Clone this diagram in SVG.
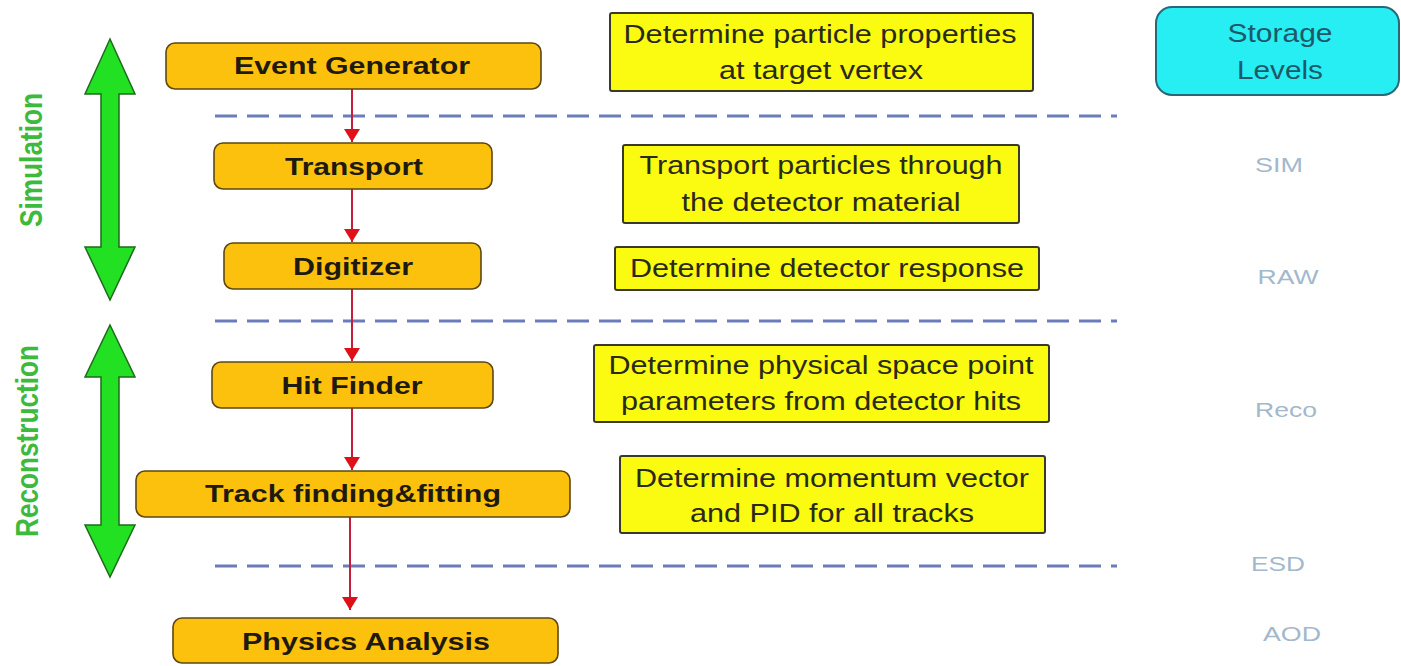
<svg xmlns="http://www.w3.org/2000/svg" width="1401" height="666" viewBox="0 0 1401 666">
  <style>
    .stage rect { fill: #fcc10c; stroke: #5c4712; stroke-width: 1.6; }
    .stage text { font-family: "Liberation Sans", Arial, sans-serif; font-weight: bold; font-size: 24px; fill: #1e1a10; text-anchor: middle; }
    .note rect { fill: #fbfb12; stroke: #3a3a2a; stroke-width: 2; }
    .note text { font-family: "Liberation Sans Narrow", "Liberation Sans", Arial, sans-serif; font-size: 25px; fill: #2a2a1a; text-anchor: middle; }
    .level { font-family: "Liberation Sans", Arial, sans-serif; font-size: 21px; fill: #a3b8cb; text-anchor: middle; }
    .phase { font-family: "Liberation Sans", Arial, sans-serif; font-weight: bold; font-size: 26px; fill: #3dba3d; text-anchor: middle; }
    .span { fill: #22e022; stroke: #1f6a1f; stroke-width: 1.5; stroke-linejoin: miter; }
    .divider { stroke: #6a7cbc; stroke-width: 3; stroke-dasharray: 22 10; fill: none; }
    .flow { stroke: #c41e3a; stroke-width: 2; fill: none; marker-end: url(#head); }
  </style>
  <defs>
    <marker id="head" markerUnits="userSpaceOnUse" markerWidth="14" markerHeight="18" refX="13" refY="8" orient="auto">
      <path d="M0,0 L13,8 L0,16 Z" fill="#e01018"/>
    </marker>
  </defs>

  <rect width="1401" height="666" fill="#ffffff"/>

  <!-- phase spans -->
  <g id="simulation">
    <path class="span" d="M110,39 L135,94 L119,94 L119,247 L135,247 L110,300 L85,247 L101,247 L101,94 L85,94 Z"/>
    <text class="phase" transform="translate(42,160) rotate(-90) scale(1,1.2)" textLength="134" lengthAdjust="spacingAndGlyphs">Simulation</text>
  </g>
  <g id="reconstruction">
    <path class="span" d="M110,325 L135,377 L119,377 L119,525 L135,525 L110,577 L85,525 L101,525 L101,377 L85,377 Z"/>
    <text class="phase" transform="translate(38,441) rotate(-90) scale(1,1.2)" textLength="192" lengthAdjust="spacingAndGlyphs">Reconstruction</text>
  </g>

  <!-- storage level boundaries -->
  <g id="dividers">
    <line class="divider" x1="215" y1="116" x2="1117" y2="116"/>
    <line class="divider" x1="215" y1="321" x2="1117" y2="321"/>
    <line class="divider" x1="215" y1="566" x2="1117" y2="566"/>
  </g>

  <!-- processing chain -->
  <g id="connectors">
    <line class="flow" x1="352" y1="89" x2="352" y2="142"/>
    <line class="flow" x1="352" y1="189" x2="352" y2="242"/>
    <line class="flow" x1="352" y1="289" x2="352" y2="361"/>
    <line class="flow" x1="352" y1="408" x2="352" y2="470"/>
    <line class="flow" x1="350" y1="517" x2="350" y2="610"/>
  </g>

  <g id="event-generator" class="stage">
    <rect x="166" y="43" width="375" height="46" rx="9"/>
    <text x="352" y="74" textLength="236" lengthAdjust="spacingAndGlyphs">Event Generator</text>
  </g>
  <g id="transport" class="stage">
    <rect x="214" y="143" width="278" height="46" rx="9"/>
    <text x="354" y="175" textLength="138" lengthAdjust="spacingAndGlyphs">Transport</text>
  </g>
  <g id="digitizer" class="stage">
    <rect x="224" y="243" width="257" height="46" rx="9"/>
    <text x="353" y="275" textLength="120" lengthAdjust="spacingAndGlyphs">Digitizer</text>
  </g>
  <g id="hit-finder" class="stage">
    <rect x="212" y="362" width="281" height="46" rx="9"/>
    <text x="352" y="394" textLength="141" lengthAdjust="spacingAndGlyphs">Hit Finder</text>
  </g>
  <g id="track-finding" class="stage">
    <rect x="136" y="471" width="434" height="46" rx="9"/>
    <text x="353" y="502" textLength="296" lengthAdjust="spacingAndGlyphs">Track finding&amp;fitting</text>
  </g>
  <g id="physics-analysis" class="stage">
    <rect x="173" y="618" width="385" height="45" rx="9"/>
    <text x="366" y="650" textLength="248" lengthAdjust="spacingAndGlyphs">Physics Analysis</text>
  </g>

  <!-- stage descriptions -->
  <g id="note-generator" class="note">
    <rect x="610" y="13" width="423" height="78" rx="2"/>
    <text x="820" y="43" textLength="393" lengthAdjust="spacingAndGlyphs">Determine particle properties</text>
    <text x="821" y="79" textLength="204" lengthAdjust="spacingAndGlyphs">at target vertex</text>
  </g>
  <g id="note-transport" class="note">
    <rect x="623" y="145" width="396" height="78" rx="2"/>
    <text x="821" y="174" textLength="363" lengthAdjust="spacingAndGlyphs">Transport particles through</text>
    <text x="821" y="211" textLength="279" lengthAdjust="spacingAndGlyphs">the detector material</text>
  </g>
  <g id="note-digitizer" class="note">
    <rect x="615" y="247" width="424" height="43" rx="2"/>
    <text x="827" y="277" textLength="394" lengthAdjust="spacingAndGlyphs">Determine detector response</text>
  </g>
  <g id="note-hits" class="note">
    <rect x="594" y="345" width="455" height="77" rx="2"/>
    <text x="821" y="374" textLength="425" lengthAdjust="spacingAndGlyphs">Determine physical space point</text>
    <text x="821" y="410" textLength="400" lengthAdjust="spacingAndGlyphs">parameters from detector hits</text>
  </g>
  <g id="note-tracks" class="note">
    <rect x="620" y="456" width="425" height="77" rx="2"/>
    <text x="832" y="487" textLength="394" lengthAdjust="spacingAndGlyphs">Determine momentum vector</text>
    <text x="832" y="522" textLength="284" lengthAdjust="spacingAndGlyphs">and PID for all tracks</text>
  </g>

  <!-- storage levels column -->
  <g id="storage-levels">
    <rect x="1156" y="7" width="243" height="88" rx="16" fill="#26eef2" stroke="#2a6878" stroke-width="2"/>
    <text x="1280" y="42" font-family="Liberation Sans, Arial, sans-serif" font-size="25" fill="#1f5868" text-anchor="middle" textLength="105" lengthAdjust="spacingAndGlyphs">Storage</text>
    <text x="1280" y="79" font-family="Liberation Sans, Arial, sans-serif" font-size="25" fill="#1f5868" text-anchor="middle" textLength="86" lengthAdjust="spacingAndGlyphs">Levels</text>
  </g>
  <g id="level-labels">
    <text class="level" x="1279" y="172" textLength="48" lengthAdjust="spacingAndGlyphs">SIM</text>
    <text class="level" x="1288" y="284" textLength="61" lengthAdjust="spacingAndGlyphs">RAW</text>
    <text class="level" x="1286" y="417" textLength="62" lengthAdjust="spacingAndGlyphs">Reco</text>
    <text class="level" x="1278" y="571" textLength="54" lengthAdjust="spacingAndGlyphs">ESD</text>
    <text class="level" x="1292" y="641" textLength="58" lengthAdjust="spacingAndGlyphs">AOD</text>
  </g>
</svg>
